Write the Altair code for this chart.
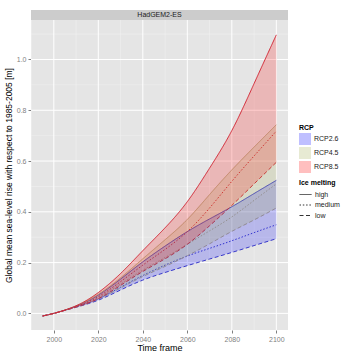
import altair as alt
import pandas as pd

years = [1995, 2000, 2010, 2020, 2030, 2040, 2050, 2060, 2070, 2080, 2090, 2100]

rcp_names = ["RCP2.6", "RCP4.5", "RCP8.5"]
melt_names = ["high", "medium", "low"]

rcp26_high = [-0.01, 0.0, 0.028, 0.072, 0.135, 0.203, 0.265, 0.322, 0.372, 0.42, 0.472, 0.524]
rcp26_medium = [-0.01, 0.0, 0.025, 0.057, 0.103, 0.149, 0.19, 0.226, 0.256, 0.286, 0.318, 0.349]
rcp26_low = [-0.01, 0.0, 0.024, 0.052, 0.092, 0.131, 0.161, 0.188, 0.214, 0.24, 0.267, 0.294]

rcp45_high = [-0.01, 0.0, 0.029, 0.075, 0.14, 0.215, 0.29, 0.37, 0.468, 0.565, 0.655, 0.743]
rcp45_medium = [-0.01, 0.0, 0.026, 0.062, 0.115, 0.17, 0.22, 0.272, 0.325, 0.38, 0.445, 0.51]
rcp45_low = [-0.01, 0.0, 0.025, 0.056, 0.1, 0.145, 0.185, 0.227, 0.274, 0.323, 0.368, 0.415]

rcp85_high = [-0.01, 0.0, 0.03, 0.082, 0.157, 0.247, 0.337, 0.44, 0.572, 0.72, 0.905, 1.097]
rcp85_medium = [-0.01, 0.0, 0.027, 0.066, 0.125, 0.19, 0.252, 0.322, 0.415, 0.52, 0.62, 0.718]
rcp85_low = [-0.01, 0.0, 0.025, 0.058, 0.11, 0.165, 0.215, 0.272, 0.345, 0.425, 0.51, 0.595]

x_major = [2000, 2020, 2040, 2060, 2080, 2100]
x_minor = [1990, 2010, 2030, 2050, 2070, 2090]
y_major = [0.0, 0.2, 0.4, 0.6, 0.8, 1.0]
y_minor = [0.1, 0.3, 0.5, 0.7, 0.9, 1.1]

model_name = "HadGEM2-ES"

series = {
    "RCP2.6": {"high": rcp26_high, "medium": rcp26_medium, "low": rcp26_low},
    "RCP4.5": {"high": rcp45_high, "medium": rcp45_medium, "low": rcp45_low},
    "RCP8.5": {"high": rcp85_high, "medium": rcp85_medium, "low": rcp85_low},
}

line_rows = []
area_rows = []
for r in rcp_names:
    for m in melt_names:
        for yr, v in zip(years, series[r][m]):
            line_rows.append({"year": yr, "rcp": r, "melt": m, "value": v})
    for i, yr in enumerate(years):
        area_rows.append({"year": yr, "rcp": r,
                          "low": series[r]["low"][i], "high": series[r]["high"][i]})
lines_df = pd.DataFrame(line_rows)
area_df = pd.DataFrame(area_rows)

W, H = 257, 310
xscale = alt.Scale(domain=[1989.75, 2105.25], nice=False, zero=False)
yscale = alt.Scale(domain=[-0.0655, 1.1555], nice=False, zero=False)
XT = "Time frame"
YT = "Global mean sea-level rise with respect to 1985-2005 [m]"

xaxis = alt.Axis(values=x_major, format="d", grid=False, domain=False,
                 tickColor="#7f7f7f", tickSize=3, labelColor="#7f7f7f",
                 labelFontSize=7, labelPadding=2, titleFontSize=9,
                 titleFontWeight="normal", titleColor="#000000", titlePadding=1)
yaxis = alt.Axis(values=y_major, format=".1f", grid=False, domain=False,
                 tickColor="#7f7f7f", tickSize=3, labelColor="#7f7f7f",
                 labelFontSize=7, labelPadding=2, titleFontSize=8.5,
                 titleFontWeight="normal", titleColor="#000000", titlePadding=3)


def X(field):
    return alt.X(field, scale=xscale, axis=xaxis, title=XT)


def Y(field):
    return alt.Y(field, scale=yscale, axis=yaxis, title=YT)


def vrules(vals, color, width):
    return alt.Chart(pd.DataFrame({"v": vals})).mark_rule(color=color, strokeWidth=width).encode(
        x=X("v:Q"))


def hrules(vals, color, width):
    return alt.Chart(pd.DataFrame({"v": vals})).mark_rule(color=color, strokeWidth=width).encode(
        y=Y("v:Q"))


grid = vrules(x_minor, "#f2f2f2", 0.5) + hrules(y_minor, "#f2f2f2", 0.5) + \
    vrules(x_major, "#ffffff", 1) + hrules(y_major, "#ffffff", 1)

lines = alt.Chart(lines_df).mark_line(strokeWidth=1, interpolate="natural").encode(
    x=X("year:Q"),
    y=Y("value:Q"),
    stroke=alt.Stroke("rcp:N", scale=alt.Scale(domain=rcp_names,
                      range=["#4040c4", "#b4aa88", "#cc2a3a"]), legend=None),
    strokeDash=alt.StrokeDash("melt:N", scale=alt.Scale(domain=melt_names,
                              range=[[1, 0], [1.5, 1.8], [4, 2.5]]),
                              legend=alt.Legend(title="Ice melting", orient="none",
                                                legendX=268, legendY=159,
                                                symbolType="stroke", symbolSize=144,
                                                symbolStrokeColor="#333333",
                                                symbolStrokeWidth=1,
                                                titleFontSize=7, titleFontWeight="bold",
                                                titleColor="#000000",
                                                labelFontSize=7, labelColor="#1a1a1a",
                                                rowPadding=0.5, labelOffset=3,
                                                titlePadding=2)),
    detail="rcp:N",
)

areas = alt.Chart(area_df).mark_area(opacity=0.2, interpolate="natural").encode(
    x=X("year:Q"),
    y=Y("low:Q"),
    y2="high:Q",
    fill=alt.Fill("rcp:N", scale=alt.Scale(domain=rcp_names,
                  range=["#0000ff", "#a0aa50", "#ff0000"]),
                  legend=alt.Legend(title="RCP", orient="none", legendX=268, legendY=104,
                                    symbolType="square", symbolSize=144,
                                    symbolOpacity=0.25, symbolStrokeWidth=0,
                                    titleFontSize=7, titleFontWeight="bold",
                                    titleColor="#000000",
                                    labelFontSize=7, labelColor="#1a1a1a",
                                    rowPadding=2, labelOffset=3, titlePadding=2)),
)

strip_df = pd.DataFrame({"strip": [model_name]})
strip_bg = alt.Chart(strip_df).mark_rect(color="#cccccc").encode(
    x=alt.value(0), x2=alt.value(W), y=alt.value(-10), y2=alt.value(0))
strip_txt = alt.Chart(strip_df).mark_text(fontSize=7, color="#1a1a1a", baseline="middle",
                                          align="center").encode(
    x=alt.value(W / 2), y=alt.value(-5), text="strip:N")

chart = alt.layer(grid, lines, areas, strip_bg, strip_txt).resolve_scale(
    stroke="independent", fill="independent"
).properties(
    width=W, height=H,
    autosize=alt.AutoSizeParams(type="none"),
    padding={"left": 31, "top": 20, "right": 69, "bottom": 27},
).configure(font="Liberation Sans").configure_view(fill="#e5e5e5", strokeWidth=0)

chart.save("out.html", embed_options={"renderer": "svg", "actions": False})
